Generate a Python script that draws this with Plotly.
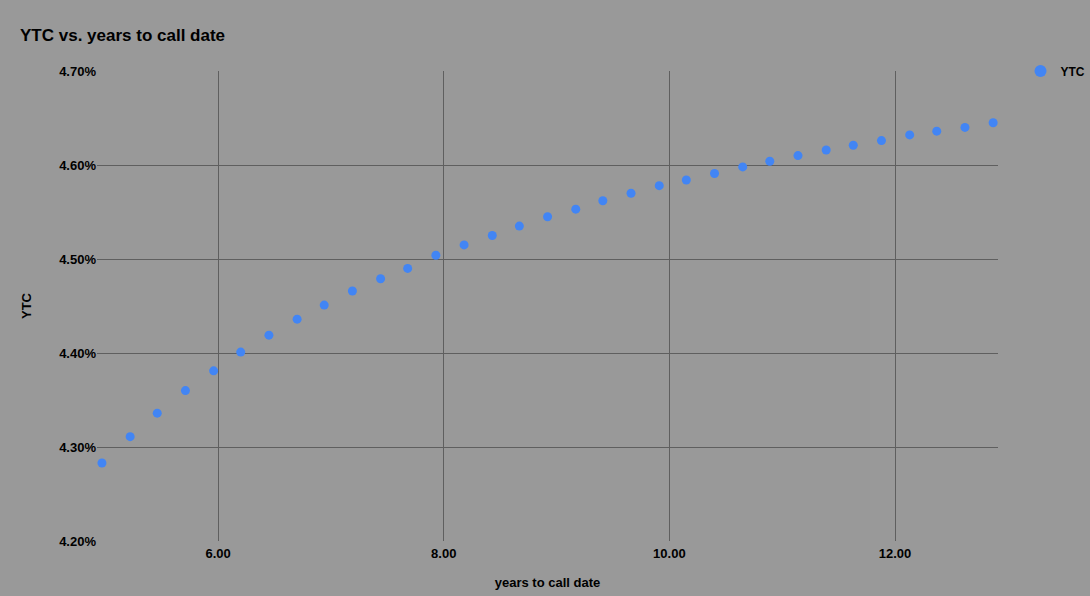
import plotly.graph_objects as go

# years to call date (x) and yield to call in percent (y)
years_to_call = [
    4.97, 5.22, 5.46, 5.71, 5.96, 6.20, 6.45, 6.70, 6.94, 7.19, 7.44,
    7.68, 7.93, 8.18, 8.43, 8.67, 8.92, 9.17, 9.41, 9.66, 9.91, 10.15,
    10.40, 10.65, 10.89, 11.14, 11.39, 11.63, 11.88, 12.13, 12.37, 12.62, 12.87,
]
ytc = [
    4.283, 4.311, 4.336, 4.360, 4.381, 4.401, 4.419, 4.436, 4.451, 4.466, 4.479,
    4.490, 4.504, 4.515, 4.525, 4.535, 4.545, 4.553, 4.562, 4.570, 4.578, 4.584,
    4.591, 4.598, 4.604, 4.610, 4.616, 4.621, 4.626, 4.632, 4.636, 4.640, 4.645,
]
x_ticks = [6, 8, 10, 12]
y_ticks = [4.2, 4.3, 4.4, 4.5, 4.6, 4.7]

BG = "#999999"
GRID = "#5f5f5f"
FONT = "Liberation Sans, Arial, sans-serif"

fig = go.Figure(
    go.Scatter(
        x=years_to_call,
        y=ytc,
        mode="markers",
        name="YTC",
        marker=dict(color="#4285f4", size=9),
        showlegend=True,
    )
)

fig.update_layout(
    width=1090,
    height=596,
    paper_bgcolor=BG,
    plot_bgcolor=BG,
    margin=dict(l=97, r=92, t=71, b=55, autoexpand=False),
    font=dict(family=FONT, color="#000000"),
    title=dict(
        text="<b>YTC vs. years to call date</b>",
        x=20 / 1090, xanchor="left",
        y=1 - 35 / 596, yanchor="middle",
        font=dict(size=17, color="#000000"),
    ),
    legend=dict(
        x=1.025, xanchor="left",
        y=1.0, yanchor="middle",
        font=dict(size=12, color="#000000", family=FONT, weight="bold"),
        bgcolor="rgba(0,0,0,0)",
        itemsizing="constant",
        itemwidth=30,
    ),
)

fig.update_xaxes(
    range=[4.926, 12.913],
    tickvals=x_ticks,
    ticktext=[f"{v:.2f}" for v in x_ticks],
    tickfont=dict(size=13, weight="bold"),
    showgrid=True, gridcolor=GRID, gridwidth=1,
    zeroline=False,
    showline=False,
    ticks="", ticklabelstandoff=3,
    title=dict(text="<b>years to call date</b>", font=dict(size=13), standoff=17),
)
fig.update_yaxes(
    range=[4.2, 4.7],
    tickvals=y_ticks,
    ticktext=[f"{v:.2f}%" for v in y_ticks],
    tickfont=dict(size=13, weight="bold"),
    showgrid=True, gridcolor=GRID, gridwidth=1,
    zeroline=False,
    showline=False,
    ticks="",
    title=dict(text="<b>YTC</b>", font=dict(size=13), standoff=24),
)

fig.write_html(
    "out.html",
    config={"displayModeBar": False},
    post_script="document.body.style.margin='0';",
)
